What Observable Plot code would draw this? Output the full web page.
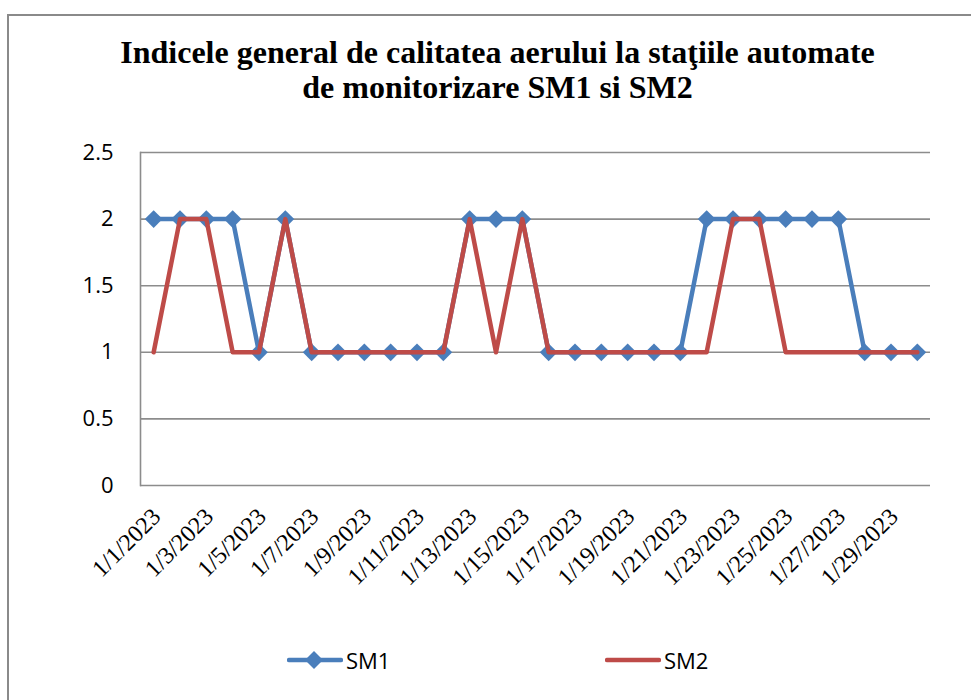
<!DOCTYPE html>
<html><head><meta charset="utf-8">
<script src="https://cdn.jsdelivr.net/npm/d3@7"></script>
<script src="https://cdn.jsdelivr.net/npm/@observablehq/plot@0.6"></script>
<style>
body{margin:0;background:#fff;}
#wrap{position:relative;width:971px;height:700px;overflow:hidden;background:#fff;}
#frame{position:absolute;left:7px;top:14px;width:1000px;height:800px;border-top:2px solid #8a8a8a;border-left:2px solid #8a8a8a;}
#title{position:absolute;left:0;width:995px;top:35px;text-align:center;font-family:"Liberation Serif",serif;font-weight:bold;font-size:32px;line-height:35px;color:#000;}
#chart{position:absolute;left:0;top:0;}
.leg{position:absolute;top:646px;height:28px;display:flex;align-items:center;font-family:"Open Sans",sans-serif;font-size:22px;color:#000;}
.leg svg{display:block;margin-right:3px;}
</style></head>
<body>
<div id="wrap">
  <div id="frame"></div>
  <div id="chart"></div>
  <div id="title">Indicele general de calitatea aerului la staţiile automate<br>de monitorizare SM1 si SM2</div>
  <div id="legend"></div>
</div>
<script>
const dates = ["1/1/2023","1/2/2023","1/3/2023","1/4/2023","1/5/2023","1/6/2023","1/7/2023","1/8/2023","1/9/2023","1/10/2023",
  "1/11/2023","1/12/2023","1/13/2023","1/14/2023","1/15/2023","1/16/2023","1/17/2023","1/18/2023","1/19/2023","1/20/2023",
  "1/21/2023","1/22/2023","1/23/2023","1/24/2023","1/25/2023","1/26/2023","1/27/2023","1/28/2023","1/29/2023","1/30/2023"];
const sm1 = [2,2,2,2,1,2,1,1,1,1,1,1,2,2,2,1,1,1,1,1,1,2,2,2,2,2,2,1,1,1];
const sm2 = [1,2,2,1,1,2,1,1,1,1,1,1,2,1,2,1,1,1,1,1,1,1,2,2,1,1,1,1,1,1];
const yTicks = [0,0.5,1,1.5,2,2.5];
const xTickLabels = dates.filter((d,i)=>i%2===0);
const seriesNames = ["SM1","SM2"];
const seriesColors = ["#4A7EBB","#BE4B48"];

const d1 = dates.map((d,i)=>({date:d, value:sm1[i]}));
const d2 = dates.map((d,i)=>({date:d, value:sm2[i]}));

const chart = Plot.plot({
  width: 971, height: 700,
  marginLeft: 140, marginRight: 41, marginTop: 152, marginBottom: 215,
  x: {type: "point", domain: dates, padding: 0.5, round: false, label: null, axis: null},
  y: {domain: [0, 2.5], label: null},
  style: {background: "transparent"},
  marks: [
    Plot.ruleY(yTicks, {stroke: "#8c8c8c", strokeWidth: 1.6}),
    Plot.frame({anchor: "left", stroke: "#8c8c8c", strokeWidth: 1.6}),
    Plot.axisY(yTicks, {tickSize: 0, tickPadding: 27, fontSize: 22, fontFamily: "Open Sans", fill: "#000", tickFormat: d => String(d), label: null}),
    Plot.text(xTickLabels, {x: d => d, frameAnchor: "bottom", dx: 3, dy: 27, rotate: -45, textAnchor: "end", lineAnchor: "middle", fontSize: 24, className: "xlab", fill: "#000"}),
    Plot.line(d1, {x: "date", y: "value", stroke: seriesColors[0], strokeWidth: 4.5, strokeLinejoin: "round"}),
    Plot.dot(d1, {x: "date", y: "value", symbol: "diamond2", r: 8, fill: seriesColors[0], stroke: "none"}),
    Plot.line(d2, {x: "date", y: "value", stroke: seriesColors[1], strokeWidth: 4.5, strokeLinejoin: "round"})
  ]
});
chart.querySelectorAll(".xlab text").forEach(t => { t.style.fontFamily = "'Liberation Serif', 'Times New Roman', serif"; });
document.getElementById("chart").appendChild(chart);

// legend
const legPos = [287, 605];
const leg = document.getElementById("legend");
seriesNames.forEach((name, i) => {
  const div = document.createElement("div");
  div.className = "leg";
  div.style.left = legPos[i] + "px";
  const marker = i === 0 ? `<path d="M27,5 L36,14 L27,23 L18,14 Z" fill="${seriesColors[i]}"/>` : "";
  div.innerHTML = `<svg width="56" height="28"><line x1="2" y1="14" x2="54" y2="14" stroke="${seriesColors[i]}" stroke-width="4.5" stroke-linecap="round"/>${marker}</svg><span>${name}</span>`;
  leg.appendChild(div);
});
</script>
</body></html>
